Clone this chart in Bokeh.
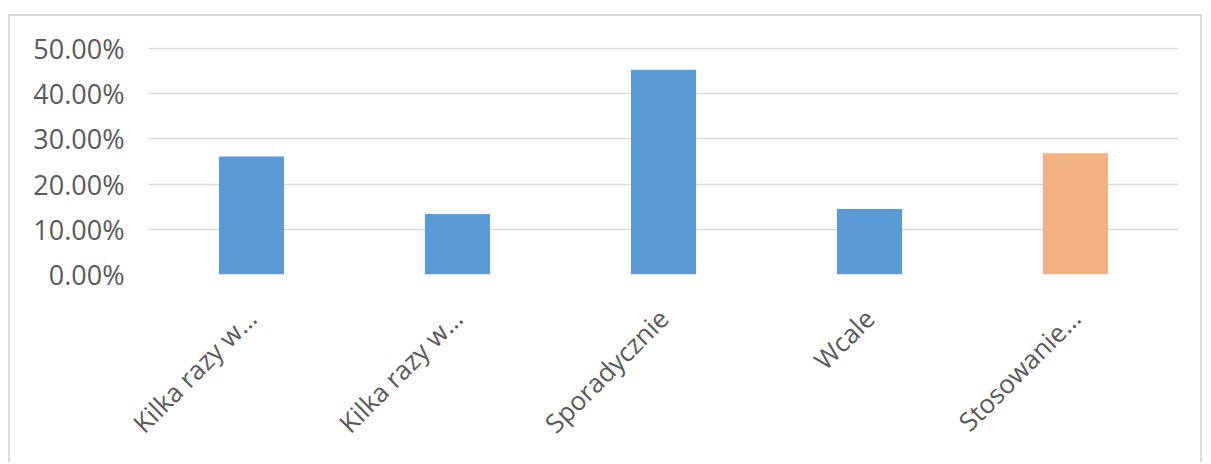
import math
from bokeh.plotting import figure
from bokeh.models import Range1d, FixedTicker, NumeralTickFormatter
from bokeh.embed import file_html
from bokeh.resources import INLINE

categories = ["Kilka razy w…", "Kilka razy w…", "Sporadycznie", "Wcale", "Stosowanie…"]
values = [0.261, 0.134, 0.453, 0.145, 0.268]
colors = ["#5B9BD5", "#5B9BD5", "#5B9BD5", "#5B9BD5", "#F4B183"]
y_ticks = [0.0, 0.1, 0.2, 0.3, 0.4, 0.5]

positions = list(range(1, len(categories) + 1))

p = figure(
    width=1194, height=448,
    output_backend="svg", toolbar_location=None,
    x_range=Range1d(0.5, len(categories) + 0.5),
    y_range=Range1d(0, 0.502),
    min_border_left=138, min_border_right=26, min_border_top=31, min_border_bottom=190,
    margin=(14, 0, 0, 8),
    styles={"border-top": "2px solid #d9d9d9", "border-left": "2px solid #d9d9d9",
            "border-right": "2px solid #d9d9d9"},
)
p.outline_line_color = None
p.background_fill_color = "white"
p.border_fill_color = "white"

p.vbar(x=positions, top=values, width=0.316, color=colors, line_color=None)

p.xgrid.grid_line_color = None
p.ygrid.grid_line_color = "#d9d9d9"
p.ygrid.grid_line_width = 1.5
p.ygrid.ticker = FixedTicker(ticks=y_ticks)

p.yaxis.ticker = FixedTicker(ticks=y_ticks)
p.yaxis.formatter = NumeralTickFormatter(format="0.00%")
p.yaxis.axis_line_color = None
p.yaxis.major_tick_line_color = None
p.yaxis.minor_tick_line_color = None
p.yaxis.major_label_text_font = "Open Sans"
p.yaxis.major_label_text_font_size = "27px"
p.yaxis.major_label_text_color = "#595959"
p.yaxis.major_label_standoff = 18

p.xaxis.ticker = FixedTicker(ticks=positions)
p.xaxis.major_label_overrides = {pos: lab for pos, lab in zip(positions, categories)}
p.xaxis.major_label_orientation = math.pi / 4
p.xaxis.axis_line_color = None
p.xaxis.major_tick_line_color = None
p.xaxis.minor_tick_line_color = None
p.xaxis.major_label_text_font = "Open Sans"
p.xaxis.major_label_text_font_size = "26px"
p.xaxis.major_label_text_color = "#595959"
p.xaxis.major_label_standoff = 33

open("out.html", "w").write(file_html(p, INLINE))
